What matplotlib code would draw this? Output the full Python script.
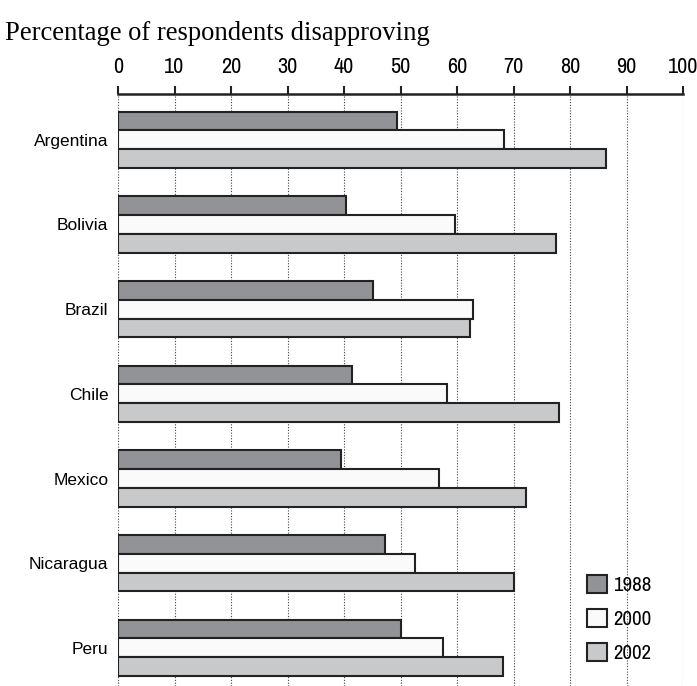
import matplotlib
matplotlib.use("Agg")
import matplotlib.pyplot as plt
import numpy as np

countries = ["Argentina", "Bolivia", "Brazil", "Chile", "Mexico", "Nicaragua", "Peru"]
years = ["1988", "2000", "2002"]
v1988 = [49.3, 40.3, 45.2, 41.5, 39.5, 47.3, 50.0]
v2000 = [68.3, 59.6, 62.8, 58.3, 56.8, 52.5, 57.6]
v2002 = [86.4, 77.6, 62.3, 78.1, 72.2, 70.1, 68.1]
xticks = [0, 10, 20, 30, 40, 50, 60, 70, 80, 90, 100]

colors = ["#929396", "#fafafa", "#c8c9ca"]
narrow = ["Archivo Narrow", "DejaVu Sans"]

fig = plt.figure(figsize=(6.97, 6.86), dpi=100)
ax = fig.add_axes([118 / 697, 0.0, 565 / 697, 1 - 94 / 686])

y = np.arange(len(countries))
h = 0.222
for i, (vals, col, lab) in enumerate(zip([v1988, v2000, v2002], colors, years)):
    ax.barh(y + (i - 1) * h, vals, height=h, color=col, edgecolor="#222222",
            linewidth=1.5, label=lab, zorder=3)

ax.set_xlim(0, 100)
ax.set_ylim(6.45, -0.54)
ax.xaxis.tick_top()
ax.set_xticks(xticks)
ax.set_xticklabels([str(t) for t in xticks], fontfamily=narrow, fontsize=16)
ax.tick_params(axis="x", direction="out", length=6, width=1.5, pad=6, color="#222222")
ax.set_yticks(y)
ax.set_yticklabels(countries, fontfamily="Liberation Sans", fontsize=12.5)
ax.tick_params(axis="y", length=0, pad=7)

for s in ["left", "right", "bottom"]:
    ax.spines[s].set_visible(False)
ax.spines["top"].set_linewidth(1.8)
ax.spines["top"].set_color("#222222")

ax.xaxis.grid(True, linestyle=(0, (1, 1.5)), color="#444444", linewidth=0.8, zorder=0)
ax.set_axisbelow(True)

leg = ax.legend(loc="upper left", bbox_to_anchor=(0.812, 0.2045), frameon=False,
                borderpad=0, handlelength=0.96, handleheight=0.9, handletextpad=0.3,
                labelspacing=0.68, prop={"family": narrow, "size": 15})

fig.text(0.007, 1 - 40 / 686, "Percentage of respondents disapproving",
         fontfamily="Liberation Serif", fontsize=19.2, va="baseline", ha="left")

fig.savefig("out.png", dpi=100)
